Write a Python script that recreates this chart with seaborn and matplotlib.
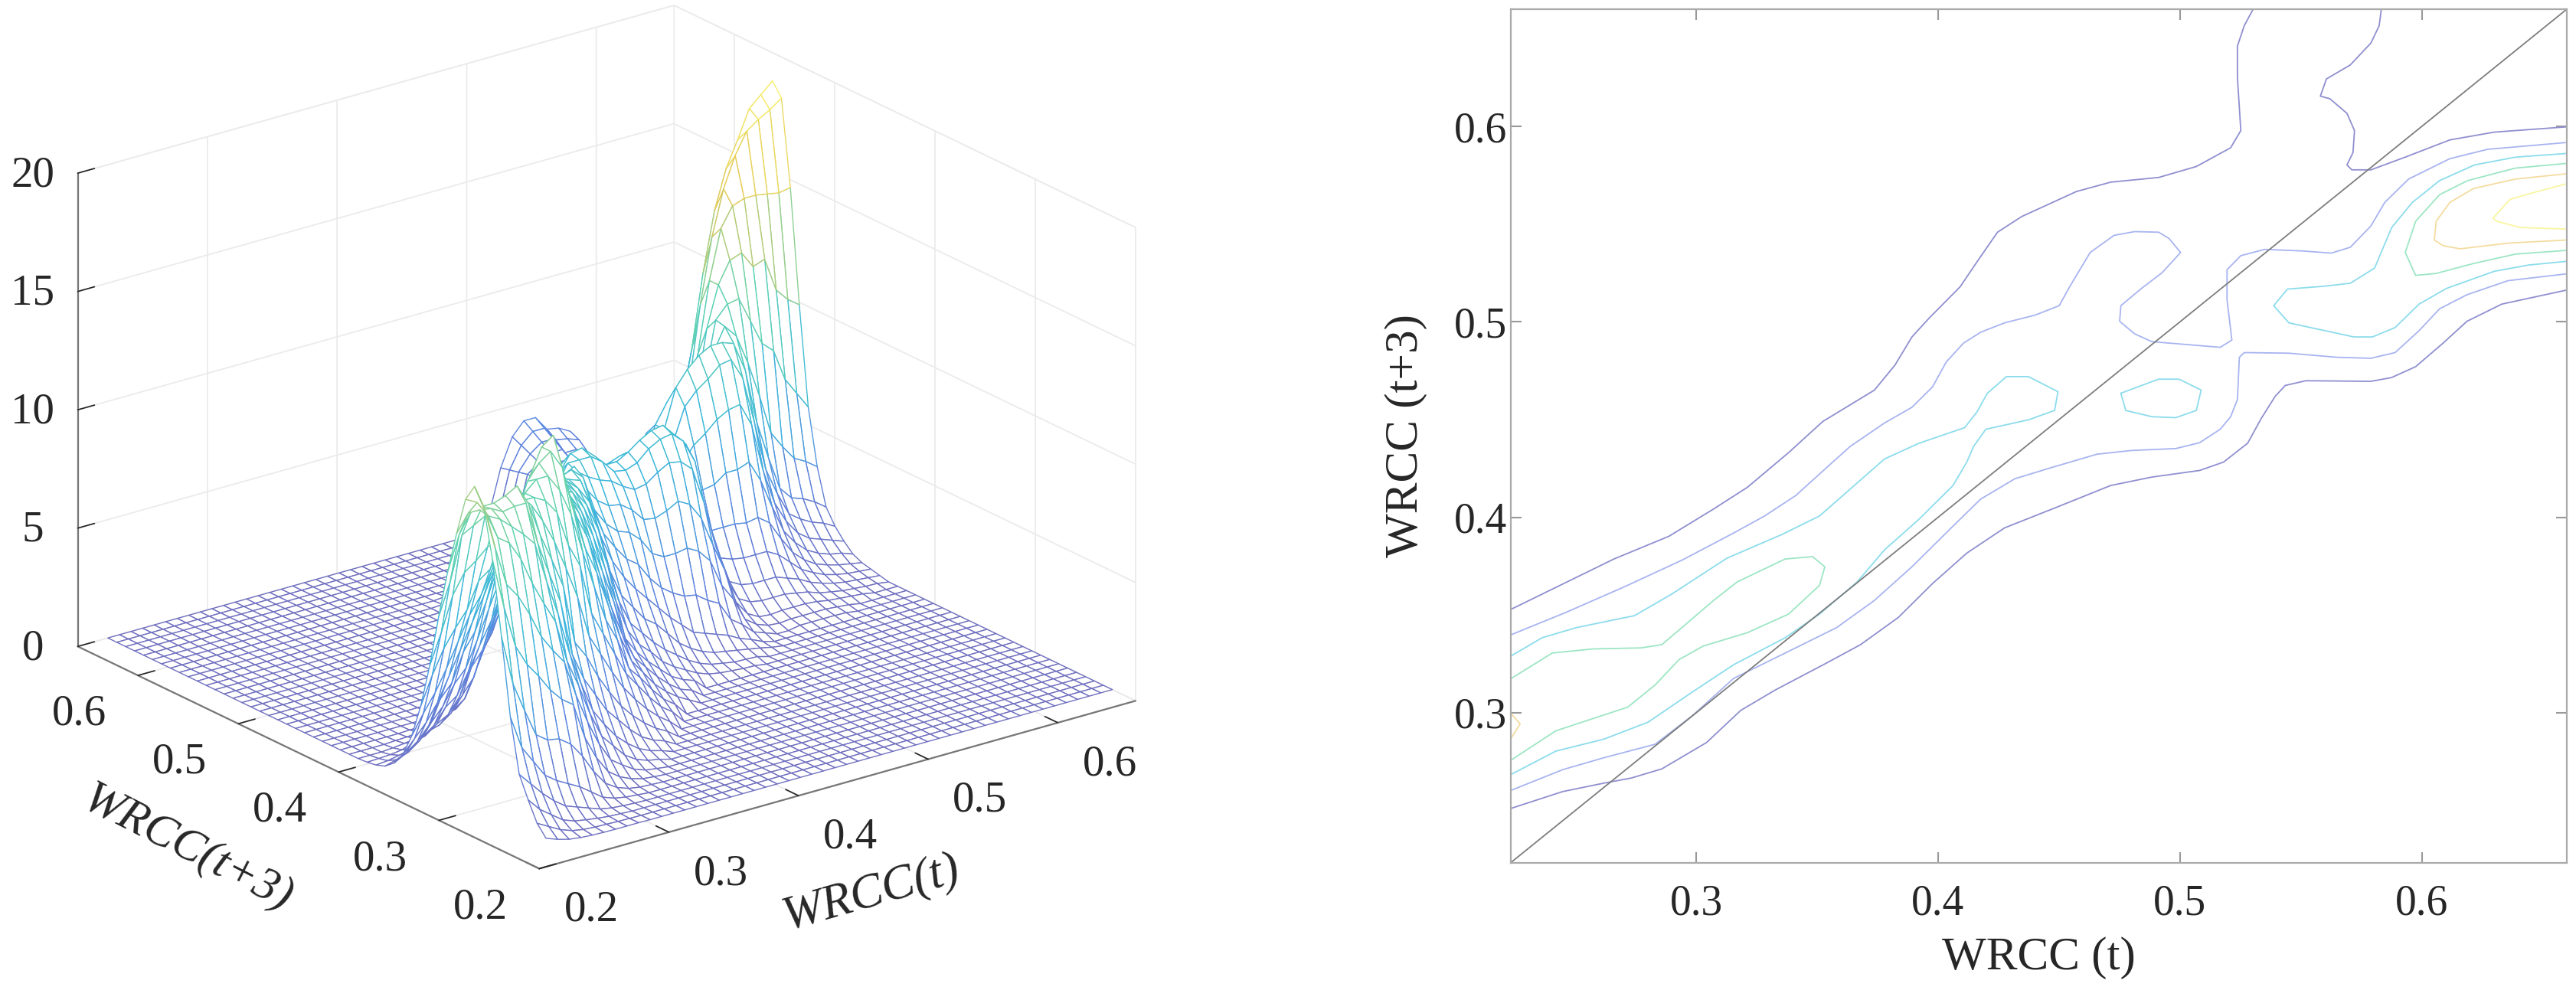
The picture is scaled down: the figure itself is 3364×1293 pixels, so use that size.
import matplotlib
matplotlib.use("Agg")
import numpy as np
import pandas as pd
import matplotlib.pyplot as plt
import seaborn as sns

# density read off the mesh: one column per WRCC(t) node, values start at row z_start[i]
# table is in units where the contour levels sit at 3, 6, 9, ... (see Z_UNIT)
z_start = [0, 0, 0, 0, 0, 0, 0, 0, 0, 3, 3, 4, 5, 5, 6, 7, 8, 9, 10, 11, 12, 13, 14, 15, 15,
           16, 17, 18, 18, 18, 18, 18, 18, 19, 20, 20, 22, 23, 23, 22, 22, 22, 22, 22, 23,
           24, 24, 25, 25, 26]
z_profile = [
    [.5, 1, 1.9, 2.9, 5.4, 9, 12.4, 14.7, 15.4, 14.6, 12.8, 10.8, 8.5, 6, 3.9, 2.3, 1.2, .6, .25, .1, .03],
    [.3, .7, 1.3, 2.3, 3.8, 6.6, 10, 12.6, 14, 14.3, 13.6, 12.4, 10, 7.4, 5.2, 3.2, 1.8, .9, .4, .15, .05],
    [.15, .4, .9, 1.7, 3, 5.2, 8, 10.7, 12.7, 13.5, 13.6, 13.3, 12, 9, 6.3, 4, 2.4, 1.3, .6, .25, .08],
    [.08, .2, .5, 1.2, 2.2, 3.9, 7, 10, 12.3, 13.2, 13.5, 13.4, 12.3, 9.9, 7.1, 5, 3.2, 1.9, 1, .4, .15, .04],
    [.04, .1, .3, .8, 1.8, 3.5, 6.3, 9, 11.4, 12.7, 13.2, 13.4, 12.6, 10.3, 7.8, 6.1, 4.3, 3, 1.7, .8, .35, .1, .03],
    [.02, .06, .2, .6, 1.5, 3.4, 5.5, 7.8, 10.1, 12.2, 13.3, 13.6, 12.7, 10.8, 9, 7.2, 5.4, 3.6, 2.3, 1.2, .5, .18, .05],
    [.01, .04, .12, .4, 1.2, 3, 4.9, 7, 9, 11.6, 13.3, 13.9, 12.7, 10.9, 9.4, 8, 6.5, 4.9, 3.2, 1.9, .9, .35, .1, .02],
    [.01, .02, .06, .2, .8, 2.3, 4.5, 6.3, 8, 9.7, 11.3, 12.9, 13.1, 12, 10.3, 9.1, 7.6, 5.7, 3.8, 2.3, 1.2, .5, .15, .03],
    [.01, .01, .03, .1, .4, 1.4, 2.8, 4.6, 6, 8, 9.7, 11.3, 12.5, 12.5, 11.2, 9.8, 8.8, 7, 5, 3.3, 1.9, .9, .35, .1, .02],
    [.05, .2, .7, 1.7, 3.2, 4.7, 6, 8.2, 10, 11.6, 12.5, 12.5, 11.2, 9.8, 8.5, 6.3, 4.4, 3.1, 1.6, .7, .25, .07, .02],
    [.02, .1, .35, .9, 2, 3.2, 4.4, 5.6, 8.6, 10.5, 12.2, 13, 12.7, 11.2, 9.7, 7.6, 5.4, 3.8, 2.3, 1.1, .4, .12, .03],
    [.05, .15, .5, 1.1, 2, 3, 4.3, 5.8, 9.1, 11.5, 13, 13.4, 12.6, 10.6, 8.8, 6.8, 5.2, 3.9, 2.4, 1.2, .5, .15, .04],
    [.06, .25, .7, 1.4, 2.2, 3.4, 5, 7.6, 9.8, 12.2, 13.8, 13.8, 12.2, 10, 8.1, 6.2, 5, 3.6, 2.3, 1.2, .5, .15, .04],
    [.03, .1, .35, .8, 1.5, 2.5, 3.9, 5.6, 8.7, 10.9, 12.9, 14.2, 13.2, 10.7, 9.2, 7.2, 5.9, 4.7, 3.7, 2.5, 1.3, .55, .18, .05],
    [.04, .15, .45, 1, 1.9, 3, 4.6, 6.3, 9, 10.7, 12, 12.9, 11.4, 9.8, 8.6, 7.1, 5.9, 5, 3.9, 2.9, 1.7, .8, .3, .08, .02],
    [.07, .25, .6, 1.3, 2.2, 3.6, 5.2, 7.2, 8.8, 10.1, 10.8, 10.8, 10.2, 9.5, 8.2, 7, 6.1, 5.2, 4.3, 3.1, 1.9, .9, .35, .1, .02],
    [.15, .35, .8, 1.6, 2.7, 4.1, 5.5, 7.5, 8.9, 9.9, 10.5, 10.6, 10.3, 9.6, 8.6, 7.4, 6.2, 5.3, 4.1, 2.6, 1.4, .6, .2, .05],
    [.2, .5, 1.1, 2, 3, 4.4, 5.8, 7.1, 8.5, 9.6, 10.3, 10.6, 10.5, 9.9, 8.9, 7, 5.6, 4.4, 3.3, 1.9, .9, .35, .1, .02],
    [.3, .7, 1.4, 2.3, 2.9, 4.2, 5.4, 6.9, 8.3, 9.4, 10, 10.3, 10.2, 9.6, 8.6, 7, 5.6, 4.6, 3.7, 3, 1.9, 1, .45, .15, .04],
    [.4, .9, 1.6, 2.3, 2.9, 3.9, 5.3, 6.7, 8.1, 9.2, 9.8, 10, 9.9, 9.2, 8.2, 6.8, 5.7, 4.9, 4.2, 3.4, 2.6, 1.5, .75, .3, .08, .02],
    [.5, 1, 1.6, 2.2, 2.7, 3.4, 4.9, 6.5, 7.9, 9, 9.8, 10.1, 9.6, 8.6, 7.8, 6.6, 5.8, 5.1, 4.4, 3.7, 2.8, 1.7, .85, .35, .1, .02],
    [.6, 1, 1.5, 2.1, 2.6, 3.4, 4.6, 5.8, 7.2, 8.4, 9.6, 9.9, 9.1, 8.5, 8, 7.1, 6.5, 5.6, 4.9, 4.2, 3.4, 2.5, 1.4, .65, .25, .07],
    [.6, 1, 1.5, 2, 2.6, 3.4, 4.5, 5.9, 7, 7.9, 8.7, 9.3, 9.5, 8.8, 8, 7.2, 6.4, 5.4, 4.8, 4.2, 3.7, 3.1, 2, 1, .45, .15, .03],
    [.6, 1, 1.5, 2.1, 2.8, 3.8, 5, 6.2, 7.1, 8, 8.9, 9.5, 9.6, 8.9, 7.9, 6.8, 6, 5.2, 4.5, 4, 3.6, 3.2, 2.4, 1.3, .55, .2, .05],
    [.3, .6, 1, 1.5, 2.2, 3.1, 4.3, 5.5, 6.6, 7.6, 8.6, 9.5, 9.7, 8.9, 7.9, 6.9, 6.1, 5.3, 4.6, 4.1, 3.7, 3.3, 3, 1.9, .9, .35, .1],
    [.4, .7, 1.1, 1.7, 2.7, 3.7, 5.1, 6.4, 7.5, 8.4, 9.1, 9.2, 8.6, 7.8, 7, 6.4, 5.6, 4.9, 4.3, 3.9, 3.6, 3.3, 2.9, 1.7, .8, .3, .08],
    [.5, .8, 1.3, 2.1, 3.1, 4.3, 5.9, 7.1, 8, 8.5, 8.6, 8.2, 7.6, 7, 6.6, 6.2, 5.8, 5, 4.4, 4, 3.7, 3.2, 2.1, 1, .4, .12, .03],
    [.5, .9, 1.5, 2.5, 3.7, 5.1, 6.5, 7.7, 8.4, 8.6, 8.3, 7.7, 7.1, 6.8, 6.7, 6.7, 6.4, 6.05, 5, 4.4, 3.6, 2.4, 1.2, .5, .15, .04],
    [.3, .6, 1.1, 2, 3.3, 4.8, 6.4, 7.8, 8.6, 8.9, 8.5, 7.7, 7, 6.6, 6.4, 6.5, 6.7, 6.5, 6, 5, 3.9, 3, 1.5, .6, .2, .05],
    [.2, .4, .8, 1.5, 3, 4.8, 6.6, 8.2, 9.1, 9.3, 8.6, 7.5, 6.3, 5.7, 5.8, 6.2, 6.7, 6.8, 6.2, 5, 4, 3.1, 1.7, .7, .25, .06],
    [.15, .3, .6, 1.3, 2.9, 4.9, 6.9, 8.5, 9.4, 9.6, 8.8, 7.3, 5.9, 5.1, 5, 5.4, 6.1, 6.5, 6.1, 5, 4, 3.2, 1.8, .8, .3, .08],
    [.1, .2, .5, 1.1, 2.5, 4.6, 6.6, 8.4, 9.5, 9.7, 8.8, 7.1, 5.6, 4.8, 4.7, 5.2, 5.8, 6, 5.6, 4.9, 4, 3.2, 1.9, .9, .35, .1, .02],
    [.08, .18, .4, .9, 2.2, 4, 5.8, 7.9, 9, 9.1, 8.4, 6.9, 5.5, 4.7, 4.5, 4.8, 5.2, 5.4, 5.2, 4.7, 4, 3.6, 3, 2, 1.2, .7, .4, .25, .15, .12, .1, .1],
    [.15, .3, .6, 1.3, 2.7, 4.4, 6.2, 7.9, 8.5, 8.2, 7, 5.8, 5.2, 4.9, 4.9, 5.1, 5.3, 5.3, 4.9, 4.4, 3.8, 3.3, 2.8, 2.2, 1.7, 1.3, 1, .9, .8, .8, .8],
    [.2, .4, .9, 1.9, 3.1, 4, 4.7, 5.2, 5.6, 5.9, 6.3, 6.5, 6.5, 6.4, 6.2, 5.8, 5.3, 4.8, 4.4, 4, 3.7, 3.4, 3.2, 3.1, 3.1, 3.1, 3.1, 3, 2.9, 2.8],
    [.08, .15, .4, .8, 1.4, 2.2, 3, 3.9, 4.8, 5.7, 6.7, 7.5, 7.9, 7.9, 7.3, 6.3, 5.7, 5.1, 4.7, 4.3, 4, 3.7, 3.5, 3.4, 3.4, 3.4, 3.5, 3.7, 3.9, 4.1],
    [.2, .4, .7, 1.2, 1.8, 2.7, 3.8, 5.5, 7.4, 9, 9.7, 8.8, 7.6, 6.2, 5.7, 5.2, 4.8, 4.4, 4.1, 3.8, 3.6, 3.5, 3.5, 3.6, 3.8, 4.1, 4.4, 4.7],
    [.2, .4, .9, 1.5, 2.5, 3.8, 5.6, 7.8, 9.6, 10.4, 9.1, 7.6, 6.2, 5.6, 5.1, 4.7, 4.3, 3.9, 3.6, 3.4, 3.3, 3.3, 3.5, 3.8, 4.1, 4.4, 4.7],
    [.15, .35, .8, 1.4, 2.4, 3.8, 6, 8.3, 10, 10.9, 9.2, 7.4, 6, 5.4, 4.9, 4.5, 4.1, 3.7, 3.4, 3.2, 3.1, 3, 2.9, 3, 3.3, 3.7, 4],
    [.1, .2, .4, .8, 1.4, 2.4, 3.7, 6, 8.6, 10.5, 11.2, 9.6, 7.6, 6.2, 5.5, 4.8, 4, 3.3, 2.9, 2.5, 2.2, 2.2, 2.4, 2.8, 3.1, 3.3, 3.6, 3.9],
    [.1, .2, .4, .8, 1.4, 2.4, 3.8, 6.2, 8.7, 10.6, 11.2, 10.5, 9, 7.8, 6.5, 5.3, 4.3, 3.5, 2.8, 2.2, 1.7, 1.4, 1.4, 1.7, 2.3, 3, 3.4, 3.6],
    [.1, .2, .4, .7, 1.2, 2.1, 3.4, 5.2, 7.6, 9.6, 11, 11.6, 11.7, 11.1, 9.7, 8, 6.5, 5, 3.3, 2.4, 1.5, 1, .8, .9, 1.1, 1.5, 2.1, 2.6],
    [.1, .2, .35, .6, 1, 1.6, 2.5, 3.8, 5.3, 7.4, 9.6, 11, 12.3, 13, 13, 11.7, 9.3, 7, 4.9, 2.7, 1.6, .9, .5, .3, .3, .4, .6, .9],
    [.08, .15, .25, .4, .7, 1.1, 1.7, 2.5, 3.6, 5, 7, 9.6, 12.4, 14, 15.3, 14.7, 12.8, 9.3, 6, 3.2, 1.8, .9, .45, .2, .15, .15, .2, .3],
    [.1, .2, .3, .5, .8, 1.2, 1.8, 2.6, 3.7, 5.2, 7.9, 11.2, 14.2, 16.2, 16.8, 15.6, 11.7, 7.9, 5, 2.7, 1.4, .6, .25, .1, .08, .1, .12],
    [.15, .2, .35, .55, .85, 1.3, 1.9, 2.6, 3.6, 6, 10, 13.4, 16.4, 18.2, 17.4, 13.7, 9.6, 5.8, 2.9, 1.3, .5, .15, .06, .04, .05, .06],
    [.1, .15, .25, .4, .65, 1, 1.5, 2.2, 3, 5.2, 9.5, 13.6, 16.4, 19.2, 18.6, 15, 10.9, 5.7, 2.8, 1.2, .45, .12, .04],
    [.1, .2, .3, .5, .8, 1.3, 1.9, 2.8, 4.5, 8, 12, 16.3, 19.6, 19.9, 17, 12.4, 6, 3, 1.3, .5, .13, .03],
    [.08, .15, .25, .4, .7, 1.1, 1.7, 2.5, 4.2, 7.2, 11.4, 16.2, 19.9, 20.4, 18, 12, 7, 3.2, 1.4, .5, .13, .03],
    [.1, .2, .3, .5, .9, 1.4, 2.1, 3.8, 6.4, 11, 16.3, 20.3, 20.9, 18.5, 12.8, 7.6, 3.5, 1.5, .55, .15, .04],
]

# contour lines, (WRCC(t), WRCC(t+3))
c3_upper = [(.2232, .3528), (.266, .3787), (.2887, .3903), (.3071, .4042), (.3212, .4154), (.3382, .4331),
            (.3524, .4491), (.3737, .4651), (.3822, .4779), (.3892, .4923), (.3963, .5019), (.4091, .5179),
            (.4161, .5307), (.4246, .5459), (.4346, .5539), (.4572, .5667), (.4714, .5715), (.4912, .5739),
            (.5068, .5795), (.521, .5891), (.5252, .5979), (.5238, .6251), (.5238, .6411), (.5266, .6515), (.5303, .66)]
c3_pocket = [(.5833, .66), (.5824, .6515), (.579, .6427), (.5705, .6315), (.5606, .6243), (.5581, .6155),
             (.562, .6142), (.5691, .6067), (.5722, .5979), (.5716, .5867), (.5691, .5803), (.5711, .5778),
             (.579, .5778), (.5932, .5843), (.6116, .5931), (.63, .5971), (.66, .5998)]
c3_lower = [(.66, .5163), (.6331, .5091), (.6187, .5003), (.6088, .4891), (.5975, .4771), (.5875, .4715),
            (.579, .4696), (.5521, .4699), (.5436, .4675), (.5394, .4619), (.5337, .4507), (.528, .4379),
            (.5181, .4283), (.5082, .424), (.4884, .4206), (.4714, .4163), (.4487, .405), (.4275, .3946),
            (.4119, .3817), (.3977, .3661), (.3836, .3488), (.368, .3349), (.3538, .3254), (.3326, .3116),
            (.3184, .3012), (.3043, .2848), (.2858, .2713), (.2731, .2666), (.2618, .264), (.2448, .2597), (.2232, .251)]
c6_upper = [(.2232, .3398), (.2462, .3514), (.2702, .3644), (.2943, .3782), (.3155, .392), (.3283, .4007),
            (.3411, .4111), (.3581, .4301), (.3637, .4363), (.3779, .4483), (.3892, .4563), (.3977, .4667),
            (.4034, .4795), (.4105, .4891), (.4176, .4947), (.4275, .4995), (.4402, .5035), (.4501, .5083),
            (.4544, .5179), (.4629, .5355), (.4728, .5443), (.4813, .5462), (.4912, .5459), (.4955, .5427),
            (.5003, .5355), (.4926, .5251), (.4841, .5171), (.4756, .5083), (.4751, .5003), (.4813, .4939),
            (.4884, .4899), (.504, .4883), (.5167, .487), (.5215, .4907), (.5195, .5115), (.5195, .5267),
            (.5252, .5339), (.5351, .5371), (.5507, .5363), (.5626, .5352), (.5705, .5382), (.579, .5491),
            (.5847, .5611), (.5946, .5731), (.6116, .5835), (.6272, .5883), (.66, .5918)]
c6_lower = [(.66, .5246), (.6357, .5211), (.6187, .5139), (.6074, .5067), (.5989, .4955), (.589, .4843),
            (.579, .4814), (.5649, .4819), (.545, .484), (.5266, .4843), (.5246, .4819), (.5238, .4603),
            (.521, .4515), (.5167, .4451), (.5082, .4382), (.4983, .4352), (.4799, .4342), (.4657, .4323),
            (.4459, .4251), (.4317, .4197), (.4176, .4093), (.4062, .3955), (.3892, .3747), (.3736, .3574),
            (.3581, .3436), (.3411, .3332), (.3155, .3176), (.2985, .2986), (.283, .2839), (.2618, .277),
            (.2448, .2709), (.2232, .2602)]
c9_left = [(.2232, .3289), (.2363, .3384), (.2505, .3436), (.2745, .3497), (.2901, .3609), (.3127, .3791),
           (.3354, .3912), (.351, .4007), (.3637, .4145), (.3779, .4299), (.3921, .4379), (.411, .4459),
           (.4161, .4539), (.4204, .4635), (.4283, .472), (.4374, .472), (.4496, .4643), (.4482, .4547),
           (.4374, .4499), (.4198, .4451), (.4147, .4363), (.4119, .4283), (.4062, .4163), (.3921, .399),
           (.3779, .3834), (.3666, .367), (.351, .3505), (.3368, .3384), (.3155, .3246), (.2985, .3107),
           (.2801, .2952), (.2618, .2865), (.242, .2804), (.2232, .2683)]
c9_island = [(.4756, .4635), (.4912, .4707), (.4997, .4707), (.5088, .4651), (.5068, .4547), (.4983, .451),
             (.4884, .4515), (.4776, .4547), (.4756, .4635)]
c9_right = [(.66, .5862), (.6388, .5843), (.6218, .5803), (.6074, .5723), (.5961, .5611), (.5876, .5483),
            (.5805, .5275), (.5705, .5198), (.5592, .5182), (.5445, .5168), (.5388, .5083), (.5451, .4995),
            (.572, .4923), (.5796, .4923), (.589, .4971), (.5989, .5091), (.6102, .5171), (.63, .5259),
            (.6442, .5291), (.66, .531)]
c12_left = [(.2232, .3173), (.2405, .3306), (.2575, .3327), (.2773, .3332), (.2858, .3349), (.2957, .3453),
            (.3071, .3574), (.317, .367), (.3368, .3787), (.3481, .3799), (.3532, .3747), (.351, .3652),
            (.3382, .3505), (.3212, .341), (.3028, .3341), (.2929, .3272), (.283, .3142), (.2717, .3029),
            (.242, .2908), (.2232, .2756)]
c12_right = [(.66, .5811), (.6388, .5787), (.619, .5723), (.6074, .5651), (.5975, .5515), (.5932, .5355),
             (.5975, .5238), (.606, .5248), (.6215, .5299), (.6388, .5347), (.66, .5366)]
c15_left = [(.2232, .3), (.2272, .2943), (.2232, .2865)]
c15_right = [(.66, .5758), (.6388, .5731), (.6215, .5683), (.6116, .5611), (.606, .5515), (.6052, .5419),
             (.6088, .539), (.6159, .5374), (.6357, .5403), (.66, .5419)]
c18_right = [(.66, .5707), (.6478, .5667), (.6365, .5627), (.6295, .5531), (.6309, .5515), (.6408, .5483), (.66, .5475)]

contour_lines = [c3_upper, c3_pocket, c3_lower, c6_upper, c6_lower, c9_left, c9_island, c9_right,
                 c12_left, c12_right, c15_left, c15_right, c18_right]
contour_levels = [3, 3, 3, 6, 6, 9, 9, 9, 12, 12, 15, 15, 18]

axis_ticks = [.2, .3, .4, .5, .6]
z_ticks = [0, 5, 10, 15, 20]
right_ticks_x = [.3, .4, .5, .6]
right_ticks_y = [.3, .4, .5, .6]

FIG_W, FIG_H = 3364, 1293
GRID_MIN, GRID_MAX = .2232, .66
Z_UNIT = .9  # contour step on the z scale is about 2.7, not 3

sns.set_theme(style="white")
plt.rcParams['font.family'] = ['Liberation Serif', 'DejaVu Serif']

mesh_cmap = sns.blend_palette(["#7070c0", "#5c86e0", "#3cb8dc", "#62d4b0", "#e3c85a", "#f7f06e"], as_cmap=True)
level_colors = {3: "#8f8fd0", 6: "#a8b4f0", 9: "#8cdcec", 12: "#9de6c4", 15: "#f4dca0", 18: "#f8f6a0"}

fig = plt.figure(figsize=(FIG_W / 100, FIG_H / 100), dpi=100)

# left panel: mesh with hidden lines (white faces)
z_grid = np.zeros((50, 50))
for i, (start, values) in enumerate(zip(z_start, z_profile)):
    z_grid[start:start + len(values), i] = values
z_grid = z_grid * Z_UNIT
grid = np.linspace(GRID_MIN, GRID_MAX, 50)
X, Y = np.meshgrid(grid, grid)

ax3d = fig.add_axes([22 / FIG_W, -48 / FIG_H, 1500 / FIG_W, 1500 / FIG_H], projection='3d', proj_type='ortho')
ax3d.set_box_aspect((979, 991, 664))
ax3d.view_init(elev=21.6, azim=-127.4)
ax3d.patch.set_alpha(0)

surf = ax3d.plot_surface(X, Y, z_grid, rstride=1, cstride=1, color='white', shade=False, linewidth=1.0, antialiased=True)
quad_z = (z_grid[:-1, :-1] + z_grid[1:, :-1] + z_grid[:-1, 1:] + z_grid[1:, 1:]) / 4
surf.set_edgecolor(mesh_cmap(np.clip(quad_z / 18.5, 0, 1).ravel()))
surf.set_facecolor('white')

ax3d.set_xlim(.2, .66)
ax3d.set_ylim(.2, .66)
ax3d.set_zlim(0, 20)
ax3d.set_xticks(axis_ticks)
ax3d.set_yticks(axis_ticks)
ax3d.set_zticks(z_ticks)
ax3d.set_xticklabels([f"{t:.1f}" for t in axis_ticks], ha='left', va='center_baseline')
ax3d.set_yticklabels([f"{t:.1f}" for t in axis_ticks], ha='right', va='center_baseline')
ax3d.set_zticklabels([str(t) for t in z_ticks], va='center_baseline')
ax3d.tick_params(labelsize=41, colors='#262626', pad=22)
ax3d.tick_params(axis='z', pad=16)
for axis in (ax3d.xaxis, ax3d.yaxis, ax3d.zaxis):
    axis.set_pane_color((1, 1, 1, 1))
    axis.pane.set_edgecolor('#e8e8e8')
    axis.line.set_color('#777777')
    axis.line.set_linewidth(1.6)
    axis._axinfo['grid'].update(color='#ebebeb', linewidth=1.3)
    axis._axinfo['tick'].update(inward_factor=0.0, outward_factor=0.35, color='#777777')

# mplot3d places axis labels only along the axis middle, these sit off-centre
fig.text(1138 / FIG_W, 1 - 1167 / FIG_H, "WRCC(t)", fontsize=46, style='italic', rotation=16,
         ha='center', va='center', rotation_mode='anchor', color='#262626')
fig.text(245 / FIG_W, 1 - 1109 / FIG_H, "WRCC(t+3)", fontsize=44, style='italic', rotation=-27,
         ha='center', va='center', rotation_mode='anchor', color='#262626')

# right panel: contours
ax = fig.add_axes([1972.5 / FIG_W, 1 - 1127 / FIG_H, (3352 - 1972.5) / FIG_W, (1127 - 12) / FIG_H])
for line, level in zip(contour_lines, contour_levels):
    df = pd.DataFrame(line, columns=['t', 't3'])
    sns.lineplot(data=df, x='t', y='t3', sort=False, estimator=None, color=level_colors[level], linewidth=1.3, ax=ax, legend=False)
sns.lineplot(x=[GRID_MIN, GRID_MAX], y=[GRID_MIN, GRID_MAX], color='#7d7d7d', linewidth=1.3, ax=ax, legend=False)
ax.set_xlim(GRID_MIN, GRID_MAX)
ax.set_ylim(GRID_MIN, GRID_MAX)
ax.set_xticks(right_ticks_x)
ax.set_yticks(right_ticks_y)
ax.set_xticklabels([f"{t:.1f}" for t in right_ticks_x])
ax.set_yticklabels([f"{t:.1f}" for t in right_ticks_y])
ax.tick_params(direction='in', length=10, width=1.5, color='#999999', top=True, right=True, bottom=True, left=True,
               labelsize=40, labelcolor='#262626')
ax.tick_params(axis='x', pad=20)
ax.tick_params(axis='y', pad=3)
for spine in ax.spines.values():
    spine.set_color('#aaaaaa')
    spine.set_linewidth(1.6)
ax.set_xlabel("WRCC (t)", fontsize=44, labelpad=12, color='#262626')
ax.set_ylabel("WRCC (t+3)", fontsize=44, labelpad=25, color='#262626')

fig.savefig("out.png", dpi=100)
